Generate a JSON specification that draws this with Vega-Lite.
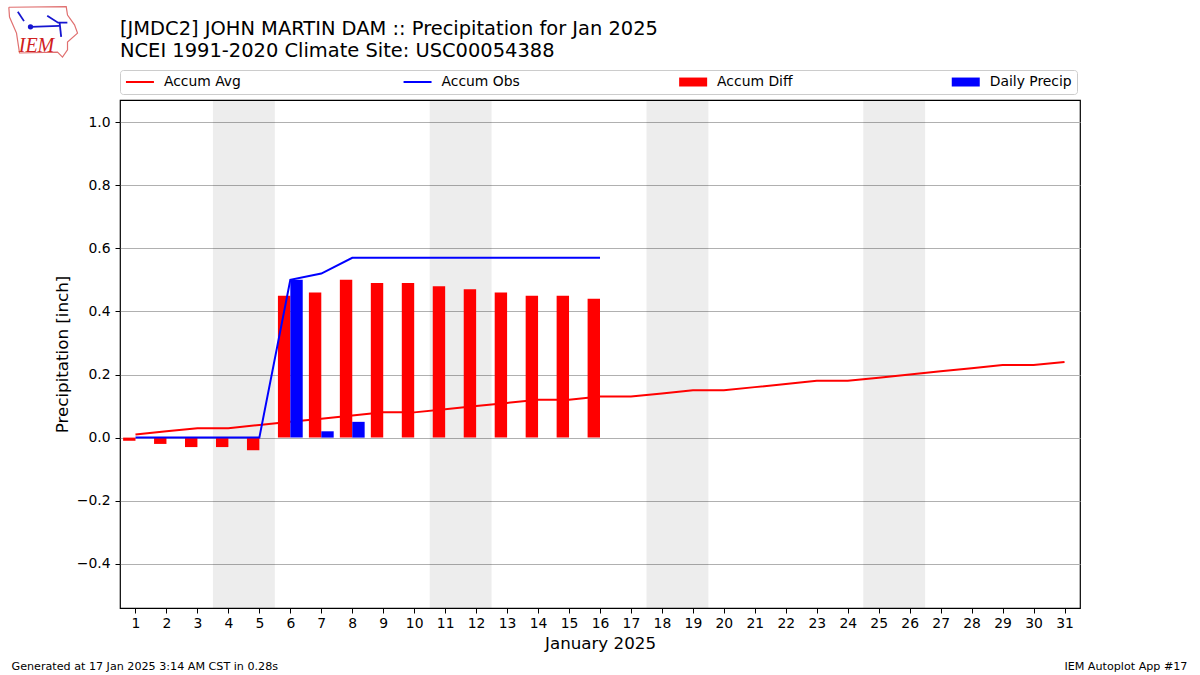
{
"$schema":"https://vega.github.io/schema/vega-lite/v6.json",
"width":960,"height":508,
"autosize":{"type":"none"},
"padding":{"left":120,"top":100,"right":120,"bottom":67},
"background":"white",
"config":{"font":"DejaVu Sans","view":{"stroke":"black","strokeWidth":1.2},"axis":{"labelOverlap":false}},
"title":{"text":["[JMDC2] JOHN MARTIN DAM :: Precipitation for Jan 2025","NCEI 1991-2020 Climate Site: USC00054388"],"anchor":"start","frame":"group","font":"DejaVu Sans","fontSize":19.45,"fontWeight":"normal","color":"black","lineHeight":22,"offset":-57},
"datasets":{
"avg":[{"day":1,"value":0.01,"series":"Accum Avg"},{"day":2,"value":0.02,"series":"Accum Avg"},{"day":3,"value":0.03,"series":"Accum Avg"},{"day":4,"value":0.03,"series":"Accum Avg"},{"day":5,"value":0.04,"series":"Accum Avg"},{"day":6,"value":0.05,"series":"Accum Avg"},{"day":7,"value":0.06,"series":"Accum Avg"},{"day":8,"value":0.07,"series":"Accum Avg"},{"day":9,"value":0.08,"series":"Accum Avg"},{"day":10,"value":0.08,"series":"Accum Avg"},{"day":11,"value":0.09,"series":"Accum Avg"},{"day":12,"value":0.10,"series":"Accum Avg"},{"day":13,"value":0.11,"series":"Accum Avg"},{"day":14,"value":0.12,"series":"Accum Avg"},{"day":15,"value":0.12,"series":"Accum Avg"},{"day":16,"value":0.13,"series":"Accum Avg"},{"day":17,"value":0.13,"series":"Accum Avg"},{"day":18,"value":0.14,"series":"Accum Avg"},{"day":19,"value":0.15,"series":"Accum Avg"},{"day":20,"value":0.15,"series":"Accum Avg"},{"day":21,"value":0.16,"series":"Accum Avg"},{"day":22,"value":0.17,"series":"Accum Avg"},{"day":23,"value":0.18,"series":"Accum Avg"},{"day":24,"value":0.18,"series":"Accum Avg"},{"day":25,"value":0.19,"series":"Accum Avg"},{"day":26,"value":0.20,"series":"Accum Avg"},{"day":27,"value":0.21,"series":"Accum Avg"},{"day":28,"value":0.22,"series":"Accum Avg"},{"day":29,"value":0.23,"series":"Accum Avg"},{"day":30,"value":0.23,"series":"Accum Avg"},{"day":31,"value":0.24,"series":"Accum Avg"}],
"obs":[{"day":1,"value":0,"series":"Accum Obs"},{"day":2,"value":0,"series":"Accum Obs"},{"day":3,"value":0,"series":"Accum Obs"},{"day":4,"value":0,"series":"Accum Obs"},{"day":5,"value":0,"series":"Accum Obs"},{"day":6,"value":0.50,"series":"Accum Obs"},{"day":7,"value":0.52,"series":"Accum Obs"},{"day":8,"value":0.57,"series":"Accum Obs"},{"day":9,"value":0.57,"series":"Accum Obs"},{"day":10,"value":0.57,"series":"Accum Obs"},{"day":11,"value":0.57,"series":"Accum Obs"},{"day":12,"value":0.57,"series":"Accum Obs"},{"day":13,"value":0.57,"series":"Accum Obs"},{"day":14,"value":0.57,"series":"Accum Obs"},{"day":15,"value":0.57,"series":"Accum Obs"},{"day":16,"value":0.57,"series":"Accum Obs"}],
"diff":[{"day":1,"value":-0.01,"series":"Accum Diff"},{"day":2,"value":-0.02,"series":"Accum Diff"},{"day":3,"value":-0.03,"series":"Accum Diff"},{"day":4,"value":-0.03,"series":"Accum Diff"},{"day":5,"value":-0.04,"series":"Accum Diff"},{"day":6,"value":0.45,"series":"Accum Diff"},{"day":7,"value":0.46,"series":"Accum Diff"},{"day":8,"value":0.50,"series":"Accum Diff"},{"day":9,"value":0.49,"series":"Accum Diff"},{"day":10,"value":0.49,"series":"Accum Diff"},{"day":11,"value":0.48,"series":"Accum Diff"},{"day":12,"value":0.47,"series":"Accum Diff"},{"day":13,"value":0.46,"series":"Accum Diff"},{"day":14,"value":0.45,"series":"Accum Diff"},{"day":15,"value":0.45,"series":"Accum Diff"},{"day":16,"value":0.44,"series":"Accum Diff"}],
"daily":[{"day":6,"value":0.50,"series":"Daily Precip"},{"day":7,"value":0.02,"series":"Daily Precip"},{"day":8,"value":0.05,"series":"Daily Precip"}],
"weekend":[{"start":3.5,"end":5.5},{"start":10.5,"end":12.5},{"start":17.5,"end":19.5},{"start":24.5,"end":26.5}],
"logoRed":[{"o":0,"d":-3.09,"v":1.364},{"o":1,"d":-1.237,"v":1.366},{"o":2,"d":-1.195,"v":1.339},{"o":3,"d":-0.969,"v":1.308},{"o":4,"d":-0.872,"v":1.282},{"o":5,"d":-1.195,"v":1.254},{"o":6,"d":-1.195,"v":1.229},{"o":7,"d":-1.357,"v":1.206},{"o":8,"d":-1.518,"v":1.222},{"o":9,"d":-2.745,"v":1.219},{"o":10,"d":-2.842,"v":1.282},{"o":11,"d":-3.068,"v":1.333},{"o":12,"d":-3.09,"v":1.364}],
"logoBlue":[{"o":0,"g":"a","d":-2.39,"v":1.302},{"o":1,"g":"a","d":-1.453,"v":1.305},{"o":0,"g":"b","d":-1.85,"v":1.337},{"o":1,"g":"b","d":-1.5,"v":1.315},{"o":2,"g":"b","d":-1.2,"v":1.315},{"o":0,"g":"c","d":-1.45,"v":1.315},{"o":1,"g":"c","d":-1.4,"v":1.27},{"o":0,"g":"d","d":-2.8,"v":1.35},{"o":1,"g":"d","d":-2.6,"v":1.32}],
"logoDot":[{"d":-2.39,"v":1.302}],
"one":[{"note":"annotation"}]
},
"layer":[
{"data":{"name":"weekend"},"mark":{"type":"rect","color":"black","opacity":0.07},
 "encoding":{"x":{"field":"start","type":"quantitative","scale":{"domain":[0.5,31.5],"nice":false,"zero":false,"padding":0},
   "axis":{"values":[1,2,3,4,5,6,7,8,9,10,11,12,13,14,15,16,17,18,19,20,21,22,23,24,25,26,27,28,29,30,31],"tickCount":31,"format":"d","grid":false,"title":"January 2025","titleFontSize":16.7,"titleFontWeight":"normal","titleColor":"black","titlePadding":6,"labelFontSize":13.9,"labelColor":"black","labelPadding":3,"tickColor":"black","tickSize":5,"tickWidth":1,"domain":false,"labelFlush":false,"labelOverlap":false}},
   "x2":{"field":"end"}}},
{"data":{"name":"avg"},"mark":{"type":"line","strokeWidth":2},
 "encoding":{"x":{"field":"day","type":"quantitative"},
  "y":{"field":"value","type":"quantitative","scale":{"domain":[-0.54,1.07],"nice":false,"zero":false,"padding":0},
   "axis":{"values":[-0.4,-0.2,0,0.2,0.4,0.6,0.8,1.0],"format":".1f","grid":true,"gridColor":"#b0b0b0","gridWidth":1.1,"gridOpacity":1,"title":"Precipitation [inch]","titleFontSize":16.7,"titleFontWeight":"normal","titleColor":"black","titlePadding":5,"labelFontSize":13.9,"labelColor":"black","labelPadding":5,"tickColor":"black","tickSize":5,"tickWidth":1,"domain":false}},
  "color":{"field":"series","type":"nominal","scale":{"domain":["Accum Avg","Accum Obs","Accum Diff","Daily Precip"],"range":["#ff0000","#0000ff","#ff0000","#0000ff"]},
   "legend":{"orient":"none","legendX":0,"legendY":-30,"direction":"horizontal","columns":4,"title":null,"columnPadding":157.6,"labelFontSize":13.9,"labelColor":"black","labelOffset":17,"labelLimit":200,"symbolSize":784,"symbolOffset":8,"symbolStrokeWidth":2,"padding":5,"strokeColor":"#cccccc","fillColor":"white","cornerRadius":3,
    "encode":{"symbols":{"update":{
      "shape":{"signal":"datum.value=='Accum Avg'||datum.value=='Accum Obs'?'stroke':'M-1,-0.32H1V0.32H-1Z'"},
      "stroke":{"signal":"datum.value=='Accum Avg'||datum.value=='Accum Diff'?'#ff0000':'#0000ff'"},
      "fill":{"signal":"datum.value=='Accum Diff'?'#ff0000':datum.value=='Daily Precip'?'#0000ff':'transparent'"},
      "strokeWidth":{"signal":"datum.value=='Accum Avg'||datum.value=='Accum Obs'?2:0"},
      "opacity":{"value":1}}}}}}}},
{"data":{"name":"diff"},"mark":{"type":"bar","size":12.4,"xOffset":-6.2,"orient":"vertical"},
 "encoding":{"x":{"field":"day","type":"quantitative"},"y":{"field":"value","type":"quantitative"},"color":{"field":"series","type":"nominal"}}},
{"data":{"name":"daily"},"mark":{"type":"bar","size":12.4,"xOffset":6.2,"orient":"vertical"},
 "encoding":{"x":{"field":"day","type":"quantitative"},"y":{"field":"value","type":"quantitative"},"color":{"field":"series","type":"nominal"}}},
{"data":{"name":"obs"},"mark":{"type":"line","strokeWidth":2},
 "encoding":{"x":{"field":"day","type":"quantitative"},"y":{"field":"value","type":"quantitative"},"color":{"field":"series","type":"nominal"}}},
{"data":{"name":"logoRed"},"mark":{"type":"line","color":"#e07070","strokeWidth":1.2},
 "encoding":{"x":{"field":"d","type":"quantitative"},"y":{"field":"v","type":"quantitative"},"order":{"field":"o","type":"quantitative"}}},
{"data":{"name":"logoBlue"},"mark":{"type":"line","color":"#1515d0","strokeWidth":1.8},
 "encoding":{"x":{"field":"d","type":"quantitative"},"y":{"field":"v","type":"quantitative"},"detail":{"field":"g"},"order":{"field":"o","type":"quantitative"}}},
{"data":{"name":"logoDot"},"mark":{"type":"point","filled":true,"color":"#1515d0","size":28,"opacity":1},
 "encoding":{"x":{"field":"d","type":"quantitative"},"y":{"field":"v","type":"quantitative"}}},
{"data":{"name":"one"},"mark":{"type":"text","text":"IEM","font":"Liberation Serif","fontStyle":"italic","fontSize":20,"color":"#d02020","align":"center","baseline":"alphabetic"},
 "encoding":{"x":{"datum":-2.196},"y":{"datum":1.222}}},
{"data":{"name":"one"},"mark":{"type":"text","text":"Generated at 17 Jan 2025 3:14 AM CST in 0.28s","fontSize":11.15,"color":"black","align":"left","baseline":"alphabetic"},
 "encoding":{"x":{"datum":-3.003},"y":{"datum":-0.737}}},
{"data":{"name":"one"},"mark":{"type":"text","text":"IEM Autoplot App #17","fontSize":11.15,"color":"black","align":"right","baseline":"alphabetic"},
 "encoding":{"x":{"datum":34.97},"y":{"datum":-0.737}}}
]
}
